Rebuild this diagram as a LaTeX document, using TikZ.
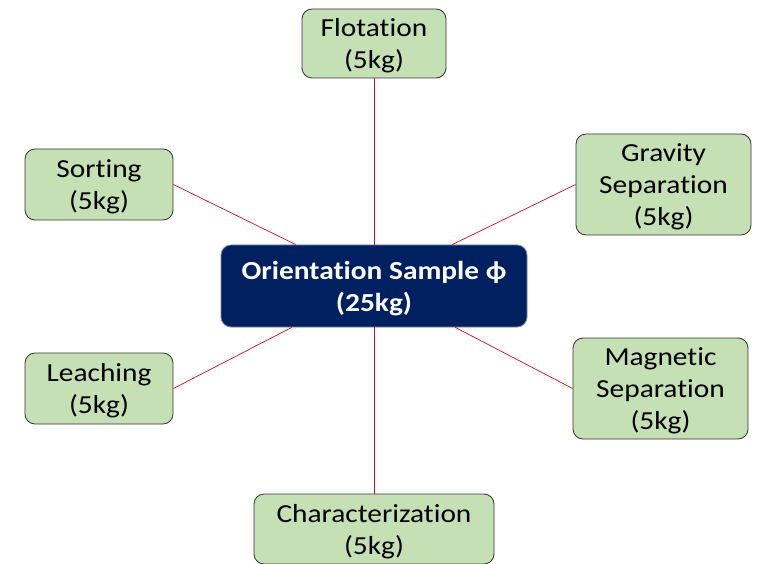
\documentclass[tikz,border=0pt]{standalone}
\usepackage{fontspec}
\setmainfont[FakeStretch=1.13,Ligatures={NoCommon}]{Carlito}
\usetikzlibrary{calc}

\definecolor{boxgreen}{RGB}{197,224,180}
\definecolor{navy}{RGB}{0,32,96}
\definecolor{navyedge}{RGB}{110,135,170}
\definecolor{linkred}{RGB}{200,16,24}

\begin{document}
\begin{tikzpicture}[x=1pt,y=-1pt,
    leaf/.style={draw=black!80, fill=boxgreen, rounded corners=10pt, line width=0.8pt,
      align=center, inner sep=0pt, font=\fontsize{26}{32}\selectfont,
      text depth=-9pt},
    hub/.style={draw=navyedge, fill=navy, rounded corners=10pt, line width=0.8pt,
      align=center, inner sep=0pt, text=white, font=\bfseries\fontsize{26}{32}\selectfont,
      text depth=-8pt},
    link/.style={draw=linkred, line width=0.7pt}]
        \useasboundingbox (0,0) rectangle (758,564);
        % centre node
        \node[hub, minimum width=306pt, minimum height=82pt] (orient) at (374,286)
          {Orientation Sample ϕ\\(25kg)};
        % outer nodes
        \node[leaf, minimum width=144pt, minimum height=69pt] (flot) at (374,43.5) {Flotation\\(5kg)};
        \node[leaf, minimum width=148pt, minimum height=71pt] (sort) at (99,184.5) {Sorting\\(5kg)};
        \node[leaf, minimum width=175pt, minimum height=101pt] (grav) at (663.5,184.5) {Gravity\\Separation\\(5kg)};
        \node[leaf, minimum width=148pt, minimum height=71pt] (leach) at (99,388.5) {Leaching\\(5kg)};
        \node[leaf, minimum width=175pt, minimum height=101pt] (magn) at (660.5,388.5) {Magnetic\\Separation\\(5kg)};
        \node[leaf, minimum width=240pt, minimum height=70pt] (charac) at (374,529) {Characterization\\(5kg)};
        % connectors
        \coordinate (tl) at ($(orient.north west)!0.245!(orient.north east)$);
        \coordinate (tr) at ($(orient.north west)!0.755!(orient.north east)$);
        \coordinate (bl) at ($(orient.south west)!0.232!(orient.south east)$);
        \coordinate (br) at ($(orient.south west)!0.765!(orient.south east)$);
        \draw[link] (flot.south) -- (orient.north);
        \draw[link] (sort.east) -- (tl);
        \draw[link] (grav.west) -- (tr);
        \draw[link] (leach.east) -- (bl);
        \draw[link] (magn.west) -- (br);
        \draw[link] (orient.south) -- (charac.north);
    \end{tikzpicture}
\end{document}
